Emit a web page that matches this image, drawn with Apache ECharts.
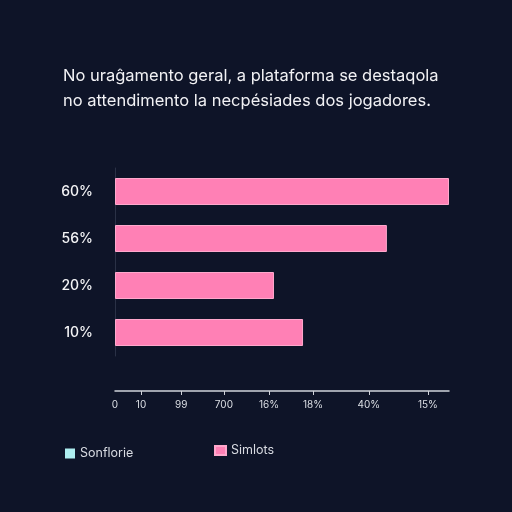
<!DOCTYPE html>
<html>
<head>
<meta charset="utf-8">
<script src="https://cdn.jsdelivr.net/npm/echarts@6/dist/echarts.min.js"></script>
<style>
  html, body { margin: 0; padding: 0; background: #0e1428; }
  #chart { width: 512px; height: 512px; }
</style>
</head>
<body>
<div id="chart"></div>
<script>
var categories = ['60%', '56%', '20%', '10%'];
var simlotsValues = [100, 81.4, 47.6, 56.3];
var sonflorieValues = [];
// tick positions on the 0-100 scale and the labels printed under them
var tickValues = [0, 7.8, 19.8, 32.6, 46.1, 59.3, 76.0, 93.7];
var tickLabels = ['0', '10', '99', '700', '16%', '18%', '40%', '15%'];

var chartDom = document.getElementById('chart');
var myChart = echarts.init(chartDom);

var option = {
    backgroundColor: '#0e1428',
    textStyle: { fontFamily: 'Inter, "Noto Sans", sans-serif' },
    title: {
        text: 'No uraĝamento geral, a plataforma se destaqola\nno attendimento la necpésiades dos jogadores.',
        left: 58,
        top: 59,
        textStyle: {
            color: '#f2f2f5',
            fontSize: 16.5,
            fontWeight: 'normal',
            lineHeight: 25
        }
    },
    legend: [
        {
            data: ['Sonflorie'],
            left: 60,
            top: 442,
            icon: 'rect',
            itemWidth: 10,
            itemHeight: 10,
            itemGap: 8,
            textStyle: { color: '#d8dbe2', fontSize: 12.5 }
        },
        {
            data: ['Simlots'],
            left: 209,
            top: 439,
            icon: 'rect',
            itemWidth: 11,
            itemHeight: 9,
            textStyle: { color: '#d8dbe2', fontSize: 12.5 }
        }
    ],
    grid: {
        left: 115,
        right: 63,
        top: 168,
        height: 188,
        containLabel: false
    },
    xAxis: {
        type: 'value',
        min: 0,
        max: 100,
        offset: 35,
        splitLine: { show: false },
        axisLine: { show: true, lineStyle: { color: '#d0d3da', width: 1.5 } },
        axisTick: {
            show: true,
            length: 4,
            lineStyle: { color: '#d0d3da' },
            customValues: tickValues.slice(1)
        },
        axisLabel: {
            color: '#dcdfe5',
            fontSize: 10,
            margin: 9,
            customValues: tickValues,
            formatter: function (v) {
                var i = tickValues.indexOf(v);
                return i >= 0 ? tickLabels[i] : '';
            }
        }
    },
    yAxis: {
        type: 'category',
        data: categories,
        inverse: true,
        axisLine: { show: true, lineStyle: { color: '#2a3146', width: 1 } },
        axisTick: { show: false },
        axisLabel: {
            color: '#f4f4f6',
            fontSize: 14,
            fontWeight: 500,
            margin: 22
        }
    },
    series: [
        {
            name: 'Sonflorie',
            type: 'bar',
            data: sonflorieValues,
            barWidth: 27,
            barGap: '-100%',
            itemStyle: { color: '#aeeef0' }
        },
        {
            name: 'Simlots',
            type: 'bar',
            data: simlotsValues,
            barWidth: 27,
            barGap: '-100%',
            itemStyle: {
                color: '#ff80b5',
                borderColor: '#ffa8cc',
                borderWidth: 1
            }
        }
    ]
};

myChart.setOption(option);
</script>
</body>
</html>
